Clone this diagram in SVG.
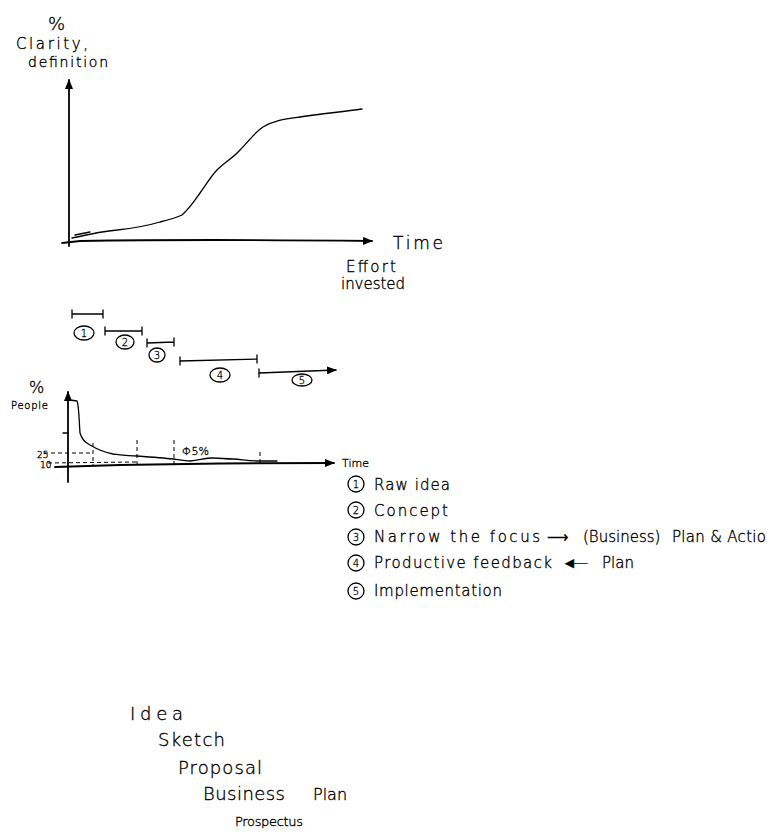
<svg xmlns="http://www.w3.org/2000/svg" width="769" height="836" viewBox="0 0 769 836">
<style>
.ln{fill:none;stroke:#000;stroke-width:1.3;stroke-linecap:round;stroke-linejoin:round}
.ax{fill:none;stroke:#000;stroke-width:1.8;stroke-linecap:round}
.ds{fill:none;stroke:#000;stroke-width:1;stroke-dasharray:4 3}
.t{font-family:"DejaVu Sans","Liberation Sans",sans-serif;font-weight:200;fill:#000;stroke:#000;stroke-width:0.35}
.c{fill:none;stroke:#000;stroke-width:1.3}
.n{font-family:"DejaVu Sans","Liberation Sans",sans-serif;font-weight:200;font-size:10px;text-anchor:middle;fill:#000;stroke:#000;stroke-width:0.3}
.lg{font-size:15px}
</style>
<defs>
<marker id="ah" markerWidth="10" markerHeight="8" refX="9" refY="4" orient="auto" markerUnits="userSpaceOnUse">
<path d="M0,0 L10,4 L0,8 Z" fill="#000"/>
</marker>
</defs>
<rect width="769" height="836" fill="#fff"/>

<g id="chart1">
<line class="ax" x1="69" y1="246" x2="69" y2="80" marker-end="url(#ah)"/>
<path class="ax" d="M62,243 L80,241 Q200,239 372,241" marker-end="url(#ah)"/>
<path class="ln" d="M72,238 C90,234 105,231 117,230 C135,228 150,225 160,222 C172,219 178,217 182,215 C190,208 195,200 200,193 C207,183 212,175 217,170 C225,162 233,158 240,150 C250,140 255,132 263,127 C275,120 285,119 300,117 C320,114 340,112 362,109"/>
<path class="ln" d="M75,235 L90,232"/>
<text class="t" x="48" y="30" font-size="18">%</text>
<text class="t" x="16" y="49" font-size="15" textLength="72">Clarity,</text>
<text class="t" x="28" y="67" font-size="14" textLength="80">definition</text>
<text class="t" x="393" y="249" font-size="17" textLength="50">Time</text>
<text class="t" x="346" y="272" font-size="15" textLength="50">Effort</text>
<text class="t" x="341" y="289" font-size="15" textLength="64">invested</text>
</g>

<g id="phases">
<path class="ln" d="M72,314 L103,314 M72,310 L72,318 M103,310 L103,318"/>
<ellipse class="c" cx="84" cy="333" rx="10" ry="7"/><text class="n" x="84" y="337">1</text>
<path class="ln" d="M105,331 L142,331 M105,327 L105,335 M142,327 L142,335"/>
<ellipse class="c" cx="125" cy="342" rx="9" ry="7"/><text class="n" x="125" y="346">2</text>
<path class="ln" d="M147,343 L174,342 M147,339 L147,347 M174,338 L174,346"/>
<ellipse class="c" cx="157" cy="355" rx="8" ry="7"/><text class="n" x="157" y="359">3</text>
<path class="ln" d="M180,361 L257,359 M180,357 L180,365 M257,355 L257,363"/>
<ellipse class="c" cx="220" cy="375" rx="10" ry="7"/><text class="n" x="220" y="379">4</text>
<path class="ln" d="M259,369 L259,377"/>
<path class="ln" d="M259,373 L336,370" marker-end="url(#ah)"/>
<ellipse class="c" cx="302" cy="380" rx="10" ry="6"/><text class="n" x="302" y="384">5</text>
</g>

<g id="chart2">
<line class="ax" x1="68" y1="482" x2="68" y2="392" marker-end="url(#ah)"/>
<path class="ax" d="M55,467 L120,465 Q220,463 334,463" marker-end="url(#ah)"/>
<path class="ln" d="M63,433 L68,433"/>
<path class="ln" d="M70,400 L77,401 C79,405 79,420 80,433 C82,440 86,443 90,445 C95,448 103,452 113,454 C122,455 130,456 137,456 C150,457 163,458 173,459 C180,460 185,461 190,461 C200,460 205,458 213,458 C220,458 226,459 233,459 C245,460 252,461 260,461 L277,461"/>
<path class="ds" d="M44,453 L92,453 M48,463 L137,462 M93,443 L93,465 M137,440 L137,465 M174,440 L174,466 M260,452 L260,465"/>
<text class="t" x="29" y="393" font-size="16">%</text>
<text class="t" x="11" y="409" font-size="10" textLength="37">People</text>
<text class="t" x="37" y="458" font-size="9">25</text>
<text class="t" x="40" y="468" font-size="9">10</text>
<text class="t" x="182" y="455" font-size="11">Φ5%</text>
<text class="t" x="342" y="467" font-size="11">Time</text>
</g>

<g id="legend">
<circle class="c" cx="356" cy="484" r="8"/><text class="n" x="356" y="488">1</text>
<text class="t lg" x="374" y="490" textLength="76">Raw idea</text>
<circle class="c" cx="356" cy="510" r="8"/><text class="n" x="356" y="514">2</text>
<text class="t lg" x="374" y="516" textLength="74">Concept</text>
<circle class="c" cx="356" cy="537" r="8"/><text class="n" x="356" y="541">3</text>
<text class="t lg" x="374" y="542" textLength="166">Narrow the focus</text>
<text class="t lg" x="547" y="542">⟶</text>
<text class="t lg" x="583" y="542">(Business)</text>
<text class="t lg" x="672" y="542" textLength="94">Plan &amp; Actio</text>
<circle class="c" cx="356" cy="563" r="8"/><text class="n" x="356" y="567">4</text>
<text class="t lg" x="374" y="568" textLength="178">Productive feedback</text>
<text class="t lg" x="562" y="568" textLength="26">◄—</text>
<text class="t lg" x="602" y="568">Plan</text>
<circle class="c" cx="356" cy="591" r="8"/><text class="n" x="356" y="595">5</text>
<text class="t lg" x="374" y="596" textLength="128">Implementation</text>
</g>

<g id="stages">
<text class="t" x="130" y="720" font-size="18" textLength="53">Idea</text>
<text class="t" x="158" y="746" font-size="18" textLength="67">Sketch</text>
<text class="t" x="178" y="774" font-size="18" textLength="84">Proposal</text>
<text class="t" x="203" y="800" font-size="18" textLength="82">Business</text>
<text class="t" x="313" y="800" font-size="16">Plan</text>
<text class="t" x="235" y="826" font-size="13" textLength="68">Prospectus</text>
</g>
</svg>
